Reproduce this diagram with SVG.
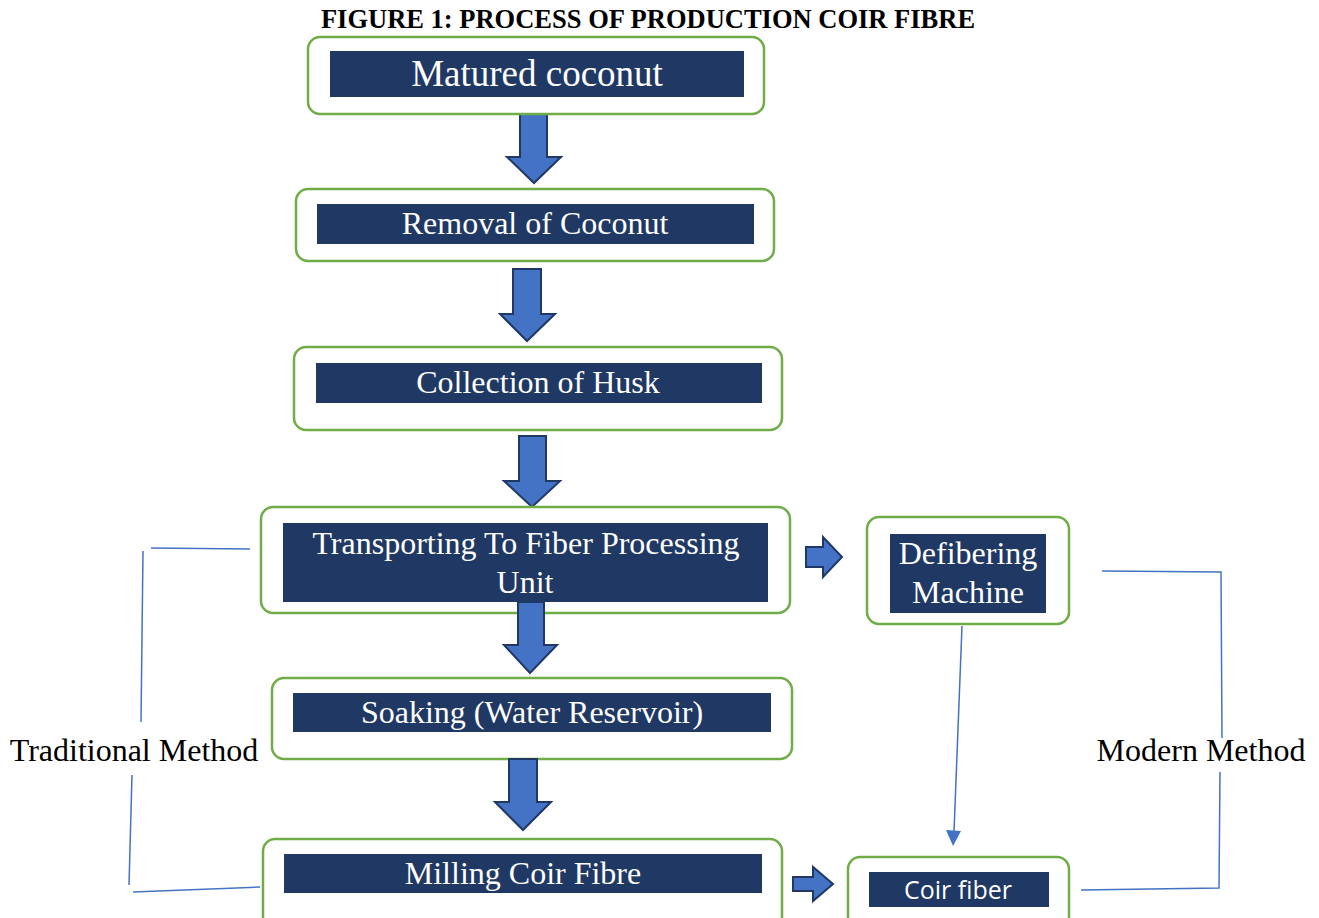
<svg xmlns="http://www.w3.org/2000/svg" width="1319" height="918" viewBox="0 0 1319 918">
<style>
.outer{fill:#fff;stroke:#70AD47;stroke-width:2.5}
.inner{fill:#203864}
.lbl{font-family:"Liberation Serif","Times New Roman",serif;font-size:32px;fill:#fff;text-anchor:middle}
.big{font-size:37px}
.side{font-family:"Liberation Serif","Times New Roman",serif;font-size:32px;fill:#000;text-anchor:middle}
.blk{fill:#4472C4;stroke:#1F3864;stroke-width:2;stroke-linejoin:miter}
.ln{fill:none;stroke:#4472C4;stroke-width:1.5}
.head{fill:#4472C4}
</style>
<rect width="1319" height="918" fill="#fff"/>
<text x="648" y="28" font-family="'Liberation Serif','Times New Roman',serif" font-size="26.5" font-weight="bold" text-anchor="middle" fill="#000">FIGURE 1: PROCESS OF PRODUCTION COIR FIBRE</text>

<g id="connectors">
<path class="blk" d="M520,114 H547 V157 H561 L534,183 L507,157 H520 Z"/>
<path class="blk" d="M513,269 H541 V314 H555 L527,341 L500,314 H513 Z"/>
<path class="blk" d="M519,436 H546 V481 H560 L532,507 L504,481 H519 Z"/>
<path class="blk" d="M806,547 H823 V537 L842,557 L823,577 V567 H806 Z"/>
<path class="blk" d="M793,877 H813 V867 L833,884 L813,901 V891 H793 Z"/>
<path class="ln" d="M962,626 L954,832"/>
<path class="head" d="M946,830 L961,831 L953,846 Z"/>
<path class="ln" d="M151,548 L250,549"/>
<path class="ln" d="M143,551 L141,722"/>
<path class="ln" d="M132,775 L129,885"/>
<path class="ln" d="M133,892 L260,887"/>
<path class="ln" d="M1102,571 L1221,572 L1222,738"/>
<path class="ln" d="M1220,772 L1219,888 L1081,890"/>
</g>

<g id="n-matured">
<rect class="outer" x="308" y="37" width="456" height="77" rx="12"/>
<rect class="inner" x="330" y="51" width="414" height="46"/>
<text class="lbl big" x="537" y="86">Matured coconut</text>
</g>

<g id="n-removal">
<rect class="outer" x="296" y="189" width="478" height="72" rx="12"/>
<rect class="inner" x="317" y="204" width="437" height="40"/>
<text class="lbl" x="535" y="234">Removal of Coconut</text>
</g>

<g id="n-collection">
<rect class="outer" x="294" y="347" width="488" height="83" rx="12"/>
<rect class="inner" x="316" y="363" width="446" height="40"/>
<text class="lbl" x="538" y="393">Collection of Husk</text>
</g>

<g id="n-transport">
<rect class="outer" x="261" y="507" width="529" height="106" rx="12"/>
<rect class="inner" x="283" y="523" width="485" height="79"/>
<text class="lbl" x="526" y="554">Transporting To Fiber Processing</text>
<text class="lbl" x="525" y="593">Unit</text>
</g>

<path class="blk" d="M518,602 H544 V645 H557 L530,673 L504,645 H518 Z"/>

<g id="n-soaking">
<rect class="outer" x="272" y="678" width="520" height="81" rx="12"/>
<rect class="inner" x="293" y="693" width="478" height="39"/>
<text class="lbl" x="532" y="723">Soaking (Water Reservoir)</text>
</g>

<path class="blk" d="M509,759 H537 V802 H551 L523,830 L495,802 H509 Z"/>

<g id="n-milling">
<rect class="outer" x="263" y="839" width="519" height="100" rx="12"/>
<rect class="inner" x="284" y="854" width="478" height="39"/>
<text class="lbl" x="523" y="884">Milling Coir Fibre</text>
</g>

<g id="n-defibering">
<rect class="outer" x="867" y="517" width="202" height="107" rx="12"/>
<rect class="inner" x="890" y="534" width="156" height="79"/>
<text class="lbl" x="968" y="564">Defibering</text>
<text class="lbl" x="968" y="603">Machine</text>
</g>

<g id="n-coir">
<rect class="outer" x="848" y="857" width="221" height="80" rx="12"/>
<rect class="inner" x="869" y="872" width="180" height="35"/>
<text x="958" y="899" font-family="'Open Sans','Noto Sans',sans-serif" font-size="25" fill="#fff" text-anchor="middle" textLength="108" lengthAdjust="spacingAndGlyphs">Coir fiber</text>
</g>

<g id="l-traditional">
<text class="side" x="134" y="761">Traditional Method</text>
</g>
<g id="l-modern">
<text class="side" x="1201" y="761">Modern Method</text>
</g>
</svg>
